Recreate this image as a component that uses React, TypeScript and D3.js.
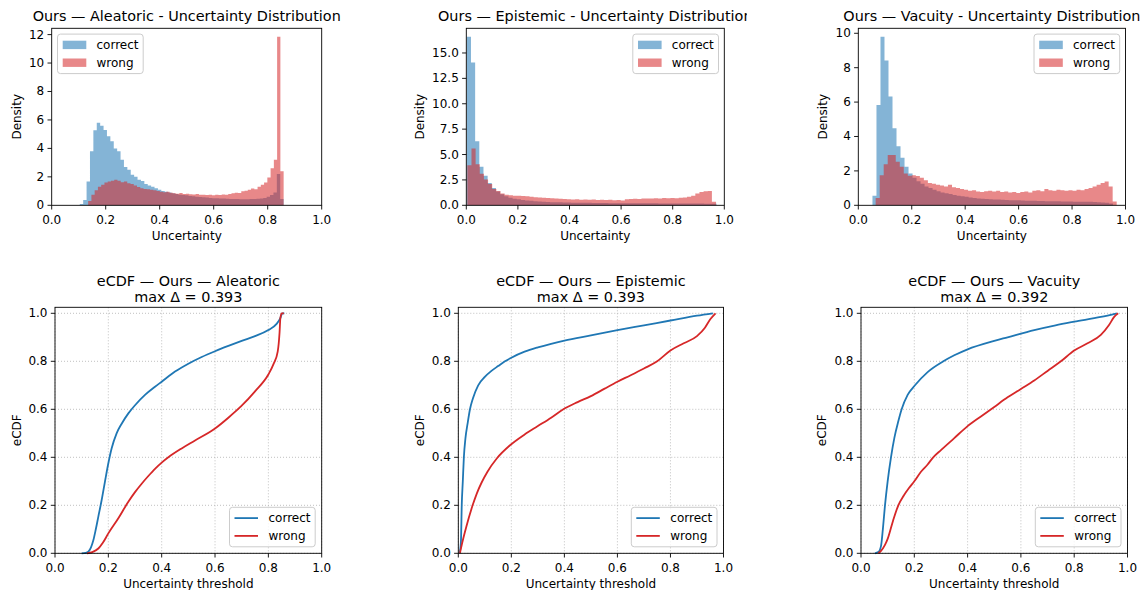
import React from 'react';
import * as d3 from 'd3';

const FONT = "'DejaVu Sans', sans-serif";
const BLUE = '#1f77b4';
const RED = '#d62728';

const xTicks = [0, 0.2, 0.4, 0.6, 0.8, 1.0];
const seriesLabels = ['correct', 'wrong'];
const kinds = ['Aleatoric', 'Epistemic', 'Vacuity'];
const maxDeltas = [0.393, 0.393, 0.392];

// histogram densities, 60 bins over each series' own [min, max]
const aleaCorrectRange = [0.104, 0.859];
const aleaCorrect = [
  0.1, 0.38, 1.67, 3.8, 5.27, 5.8, 5.6, 5.3, 4.85, 4.5,
  4.0, 3.8, 3.2, 2.7, 2.5, 2.15, 2.0, 1.8, 1.7, 1.5,
  1.4, 1.3, 1.2, 1.1, 1.0, 0.95, 0.9, 0.85, 0.8, 0.75,
  0.72, 0.7, 0.66, 0.63, 0.6, 0.58, 0.56, 0.54, 0.52, 0.5,
  0.49, 0.48, 0.47, 0.46, 0.45, 0.44, 0.44, 0.43, 0.43, 0.43,
  0.44, 0.45, 0.46, 0.48, 0.52, 0.6, 0.72, 0.9, 2.2, 0.45,
];
const aleaWrongRange = [0.135, 0.859];
const aleaWrong = [
  0.3, 0.75, 1.05, 1.3, 1.45, 1.6, 1.68, 1.72, 1.8, 1.72,
  1.62, 1.68, 1.55, 1.5, 1.4, 1.28, 1.2, 1.15, 1.12, 1.1,
  1.05, 1.0, 0.95, 0.92, 0.95, 0.88, 0.85, 0.82, 0.86, 0.8,
  0.82, 0.78, 0.76, 0.8, 0.74, 0.75, 0.72, 0.74, 0.71, 0.74,
  0.72, 0.76, 0.74, 0.8, 0.84, 0.88, 0.86, 0.98, 1.02, 1.1,
  1.18, 1.12, 1.3, 1.45, 1.6, 1.95, 2.6, 3.2, 11.85, 2.4,
];
const epiCorrectRange = [0.002, 0.97];
const epiCorrect = [
  16.6, 14.05, 6.3, 3.8, 2.9, 2.2, 1.7, 1.35, 1.1, 0.9,
  0.75, 0.65, 0.6, 0.52, 0.48, 0.44, 0.4, 0.37, 0.35, 0.33,
  0.31, 0.3, 0.29, 0.28, 0.27, 0.26, 0.25, 0.25, 0.24, 0.24,
  0.23, 0.23, 0.22, 0.22, 0.21, 0.21, 0.21, 0.2, 0.2, 0.2,
  0.2, 0.19, 0.19, 0.19, 0.19, 0.19, 0.18, 0.18, 0.18, 0.18,
  0.18, 0.18, 0.17, 0.17, 0.17, 0.17, 0.17, 0.16, 0.16, 0.15,
];
const epiWrongRange = [0.004, 0.968];
const epiWrong = [
  3.95, 5.6, 4.05, 3.1, 2.55, 2.1, 1.6, 1.4, 1.15, 1.05,
  1.0, 0.95, 0.95, 0.92, 0.9, 0.85, 0.8, 0.78, 0.75, 0.72,
  0.7, 0.68, 0.65, 0.62, 0.6, 0.58, 0.6, 0.55, 0.58, 0.55,
  0.56, 0.53, 0.55, 0.52, 0.54, 0.5, 0.52, 0.48, 0.6, 0.62,
  0.65, 0.62, 0.66, 0.68, 0.66, 0.7, 0.68, 0.72, 0.7, 0.72,
  0.7, 0.75, 0.78, 0.85, 0.95, 1.15, 1.3, 1.38, 1.4, 0.35,
];
const vacCorrectRange = [0.053, 0.953];
const vacCorrect = [
  0.55, 5.83, 9.8, 8.42, 6.32, 4.48, 3.43, 2.77, 2.24, 1.85,
  1.6, 1.4, 1.25, 1.1, 1.0, 0.9, 0.82, 0.75, 0.7, 0.65,
  0.6, 0.55, 0.52, 0.5, 0.45, 0.42, 0.4, 0.38, 0.36, 0.35,
  0.34, 0.33, 0.32, 0.31, 0.3, 0.3, 0.29, 0.28, 0.27, 0.27,
  0.26, 0.25, 0.25, 0.24, 0.24, 0.23, 0.23, 0.22, 0.22, 0.22,
  0.21, 0.21, 0.2, 0.2, 0.2, 0.19, 0.18, 0.17, 0.15, 0.1,
];
const vacWrongRange = [0.065, 0.967];
const vacWrong = [
  0.43, 1.75, 2.38, 2.92, 2.92, 2.53, 2.24, 1.85, 1.72, 1.75,
  1.7, 1.6, 1.45, 1.3, 1.25, 1.2, 1.15, 1.1, 1.2, 1.05,
  1.0, 0.95, 0.9, 0.85, 0.88, 0.8, 0.78, 0.82, 0.85, 0.8,
  0.85, 0.78, 0.8, 0.75, 0.78, 0.72, 0.78, 0.8, 0.74, 0.85,
  0.88, 0.82, 0.95, 0.88, 0.85, 0.9, 0.88, 0.85, 0.88, 0.85,
  0.9, 0.88, 0.95, 1.0, 1.1, 1.2, 1.3, 1.38, 1.1, 0.22,
];

// eCDF curves (threshold, fraction)
const aleaCorrectX = [0.1, 0.115, 0.125, 0.135, 0.144, 0.153, 0.1625, 0.175, 0.1875, 0.2, 0.2125, 0.231, 0.25, 0.275, 0.3, 0.3375, 0.375, 0.4, 0.45, 0.5, 0.55, 0.6, 0.65, 0.7, 0.75, 0.8, 0.83, 0.845, 0.852, 0.86];
const aleaCorrectY = [0, 0.002, 0.007, 0.025, 0.055, 0.1, 0.153, 0.222, 0.3, 0.375, 0.4375, 0.5, 0.54, 0.583, 0.617, 0.66, 0.694, 0.715, 0.757, 0.79, 0.818, 0.842, 0.864, 0.885, 0.905, 0.93, 0.955, 0.98, 1.0, 1.0];
const aleaWrongX = [0.12, 0.14, 0.1625, 0.18, 0.2, 0.2375, 0.275, 0.3, 0.325, 0.35, 0.375, 0.4, 0.425, 0.475, 0.525, 0.6, 0.65, 0.7, 0.75, 0.8, 0.82, 0.835, 0.842, 0.845, 0.85, 0.858];
const aleaWrongY = [0, 0.005, 0.02, 0.045, 0.083, 0.146, 0.215, 0.255, 0.29, 0.322, 0.352, 0.378, 0.4, 0.437, 0.47, 0.52, 0.565, 0.615, 0.675, 0.745, 0.79, 0.84, 0.92, 0.98, 1.0, 1.0];
const epiCorrectX = [0.005, 0.01, 0.013, 0.017, 0.021, 0.027, 0.035, 0.044, 0.055, 0.075, 0.1, 0.125, 0.15, 0.176, 0.2, 0.25, 0.3, 0.35, 0.4, 0.5, 0.6, 0.7, 0.8, 0.9, 0.96];
const epiCorrectY = [0, 0.05, 0.2, 0.3, 0.4, 0.48, 0.54, 0.6, 0.645, 0.7, 0.735, 0.76, 0.78, 0.8, 0.815, 0.84, 0.858, 0.873, 0.886, 0.908, 0.93, 0.95, 0.97, 0.99, 1.0];
const epiWrongX = [0.006, 0.015, 0.03, 0.054, 0.07, 0.088, 0.11, 0.145, 0.195, 0.25, 0.3, 0.35, 0.396, 0.45, 0.5, 0.55, 0.6, 0.65, 0.7, 0.75, 0.8, 0.85, 0.9, 0.93, 0.95, 0.97];
const epiWrongY = [0, 0.045, 0.11, 0.2, 0.25, 0.295, 0.34, 0.395, 0.45, 0.495, 0.53, 0.565, 0.6, 0.63, 0.655, 0.685, 0.715, 0.742, 0.77, 0.8, 0.845, 0.875, 0.905, 0.94, 0.975, 1.0];
const vacCorrectX = [0.052, 0.065, 0.075, 0.082, 0.09, 0.1, 0.1125, 0.125, 0.14, 0.1525, 0.175, 0.2025, 0.25, 0.309, 0.35, 0.4, 0.5, 0.55, 0.65, 0.73, 0.8, 0.9, 0.96];
const vacCorrectY = [0, 0.005, 0.03, 0.1, 0.2, 0.3, 0.4, 0.48, 0.55, 0.6, 0.66, 0.7, 0.755, 0.8, 0.825, 0.85, 0.885, 0.9, 0.93, 0.95, 0.965, 0.985, 1.0];
const vacWrongX = [0.065, 0.075, 0.09, 0.1, 0.12, 0.14, 0.16, 0.18, 0.2, 0.225, 0.25, 0.271, 0.3, 0.35, 0.4, 0.45, 0.5, 0.55, 0.6, 0.65, 0.7, 0.75, 0.8, 0.85, 0.9, 0.93, 0.95, 0.965];
const vacWrongY = [0, 0.01, 0.035, 0.06, 0.135, 0.2, 0.24, 0.272, 0.3, 0.34, 0.37, 0.4, 0.43, 0.48, 0.53, 0.57, 0.61, 0.65, 0.685, 0.72, 0.76, 0.8, 0.845, 0.875, 0.91, 0.95, 0.985, 1.0];

const histData = [
  { ranges: [aleaCorrectRange, aleaWrongRange], series: [aleaCorrect, aleaWrong] },
  { ranges: [epiCorrectRange, epiWrongRange], series: [epiCorrect, epiWrong] },
  { ranges: [vacCorrectRange, vacWrongRange], series: [vacCorrect, vacWrong] },
];
const histYTicks = [
  [0, 2, 4, 6, 8, 10, 12],
  [0, 2.5, 5, 7.5, 10, 12.5, 15],
  [0, 2, 4, 6, 8, 10],
];
const histYFmt = ['d', '.1f', 'd'];
const ecdfData = [
  [[aleaCorrectX, aleaCorrectY], [aleaWrongX, aleaWrongY]],
  [[epiCorrectX, epiCorrectY], [epiWrongX, epiWrongY]],
  [[vacCorrectX, vacCorrectY], [vacWrongX, vacWrongY]],
];
const ecdfYTicks = [0, 0.2, 0.4, 0.6, 0.8, 1.0];

// layout
const topBoxes = [
  { l: 51.7, r: 321.7, t: 28.3, b: 205.3, yl: 17 },
  { l: 466.3, r: 724.3, t: 28.3, b: 205.3, yl: 420 },
  { l: 858.3, r: 1125.5, t: 28.3, b: 205.3, yl: 823 },
];
const botBoxes = [
  { l: 55, r: 321.7, t: 307.3, b: 553.3, yl: 17 },
  { l: 458.3, r: 723.5, t: 307.3, b: 553.3, yl: 420 },
  { l: 861, r: 1127.5, t: 307.3, b: 553.3, yl: 822 },
];

const LEG_W = 85.7;
const LEG_H = 39.5;

function Legend({ x0, y0, kind }) {
  return (
    <g>
      <rect x={x0} y={y0} width={LEG_W} height={LEG_H} rx={3} fill="#fff" fillOpacity={0.8} stroke="#cccccc" strokeWidth={1} />
      {seriesLabels.map((name, i) => {
        const cy = y0 + 10.8 + i * 17.8;
        const c = i === 0 ? BLUE : RED;
        return (
          <g key={name}>
            {kind === 'patch' ? (
              <rect x={x0 + 5.2} y={cy - 4.2} width={23.6} height={8.4} fill={c} fillOpacity={0.55} />
            ) : (
              <line x1={x0 + 5} x2={x0 + 28.5} y1={cy} y2={cy} stroke={c} strokeWidth={1.8} />
            )}
            <text x={x0 + 39} y={cy} dominantBaseline="central" fontSize={12}>{name}</text>
          </g>
        );
      })}
    </g>
  );
}

function XAxis({ x, box, label }) {
  return (
    <g>
      {xTicks.map((t) => (
        <g key={t}>
          <line x1={x(t)} x2={x(t)} y1={box.b} y2={box.b + 4.2} stroke="#000" strokeWidth={0.9} />
          <text x={x(t)} y={box.b + 14.5} textAnchor="middle" dominantBaseline="central" fontSize={12}>
            {d3.format('.1f')(t)}
          </text>
        </g>
      ))}
      <text x={(box.l + box.r) / 2} y={box.b + 30.5} textAnchor="middle" dominantBaseline="central" fontSize={12}>
        {label}
      </text>
    </g>
  );
}

function YAxis({ y, box, ticks, fmt, label }) {
  return (
    <g>
      {ticks.map((t) => (
        <g key={t}>
          <line x1={box.l - 4.2} x2={box.l} y1={y(t)} y2={y(t)} stroke="#000" strokeWidth={0.9} />
          <text x={box.l - 7.5} y={y(t)} textAnchor="end" dominantBaseline="central" fontSize={12}>
            {d3.format(fmt)(t)}
          </text>
        </g>
      ))}
      <text transform={`translate(${box.yl},${(box.t + box.b) / 2}) rotate(-90)`} textAnchor="middle" dominantBaseline="central" fontSize={12}>
        {label}
      </text>
    </g>
  );
}

function HistPanel({ idx }) {
  const box = topBoxes[idx];
  const { ranges, series } = histData[idx];
  const x = d3.scaleLinear().domain([0, 1]).range([box.l, box.r]);
  const ymax = d3.max(series.flat()) * 1.05;
  const y = d3.scaleLinear().domain([0, ymax]).range([box.b, box.t]);
  const area = d3.area().x((d) => x(d[0])).y0(y(0)).y1((d) => y(d[1])).curve(d3.curveStepAfter);
  const paths = series.map((vals, k) => {
    const [lo, hi] = ranges[k];
    const w = (hi - lo) / vals.length;
    const pts = vals.map((v, i) => [lo + i * w, v]);
    pts.push([hi, vals[vals.length - 1]]);
    return area(pts);
  });
  const title = `Ours — ${kinds[idx]} - Uncertainty Distribution`;
  const clipId = `tclip${idx}`;
  return (
    <g>
      <defs>
        <clipPath id={clipId}>
          <rect x={0} y={0} width={idx === 1 ? 747 : 1142} height={40} />
        </clipPath>
      </defs>
      {paths.map((p, k) => (
        <path key={k} d={p} fill={k === 0 ? BLUE : RED} fillOpacity={0.55} />
      ))}
      <rect x={box.l} y={box.t} width={box.r - box.l} height={box.b - box.t} fill="none" stroke="#000" strokeWidth={0.9} />
      <XAxis x={x} box={box} label="Uncertainty" />
      <YAxis y={y} box={box} ticks={histYTicks[idx]} fmt={histYFmt[idx]} label="Density" />
      <Legend kind="patch" x0={idx === 0 ? box.l + 5.8 : box.r - 5.8 - LEG_W} y0={box.t + 5.8} />
      <text clipPath={`url(#${clipId})`} x={(box.l + box.r) / 2} y={16} textAnchor="middle" dominantBaseline="central" fontSize={14.4}>
        {title}
      </text>
    </g>
  );
}

function EcdfPanel({ idx }) {
  const box = botBoxes[idx];
  const x = d3.scaleLinear().domain([0, 1]).range([box.l, box.r]);
  const y = d3.scaleLinear().domain([0, 1.025]).range([box.b, box.t]);
  const line = d3.line().x((d) => x(d[0])).y((d) => y(d[1])).curve(d3.curveMonotoneX);
  const cx = (box.l + box.r) / 2;
  return (
    <g>
      {xTicks.map((t) => (
        <line key={`gx${t}`} x1={x(t)} x2={x(t)} y1={box.t} y2={box.b} stroke="#b0b0b0" strokeWidth={0.8} strokeDasharray="1,2" />
      ))}
      {ecdfYTicks.map((t) => (
        <line key={`gy${t}`} x1={box.l} x2={box.r} y1={y(t)} y2={y(t)} stroke="#b0b0b0" strokeWidth={0.8} strokeDasharray="1,2" />
      ))}
      {ecdfData[idx].map(([xs, ys], k) => (
        <path key={k} d={line(xs.map((v, i) => [v, ys[i]]))} fill="none" stroke={k === 0 ? BLUE : RED} strokeWidth={1.8} />
      ))}
      <rect x={box.l} y={box.t} width={box.r - box.l} height={box.b - box.t} fill="none" stroke="#000" strokeWidth={0.9} />
      <XAxis x={x} box={box} label="Uncertainty threshold" />
      <YAxis y={y} box={box} ticks={ecdfYTicks} fmt=".1f" label="eCDF" />
      <Legend kind="line" x0={box.r - 6.5 - LEG_W} y0={box.b - 6.5 - LEG_H} />
      <text x={cx} y={280.7} textAnchor="middle" dominantBaseline="central" fontSize={14.4}>
        {`eCDF — Ours — ${kinds[idx]}`}
      </text>
      <text x={cx} y={296.7} textAnchor="middle" dominantBaseline="central" fontSize={14.4}>
        {`max Δ = ${maxDeltas[idx].toFixed(3)}`}
      </text>
    </g>
  );
}

export default function App() {
  return (
    <svg width={1142} height={590} style={{ position: 'absolute', left: 0, top: 0, background: '#fff' }} fontFamily={FONT}>
      <rect width={1142} height={590} fill="#fff" />
      {[0, 1, 2].map((i) => (
        <HistPanel key={`h${i}`} idx={i} />
      ))}
      {[0, 1, 2].map((i) => (
        <EcdfPanel key={`e${i}`} idx={i} />
      ))}
    </svg>
  );
}
